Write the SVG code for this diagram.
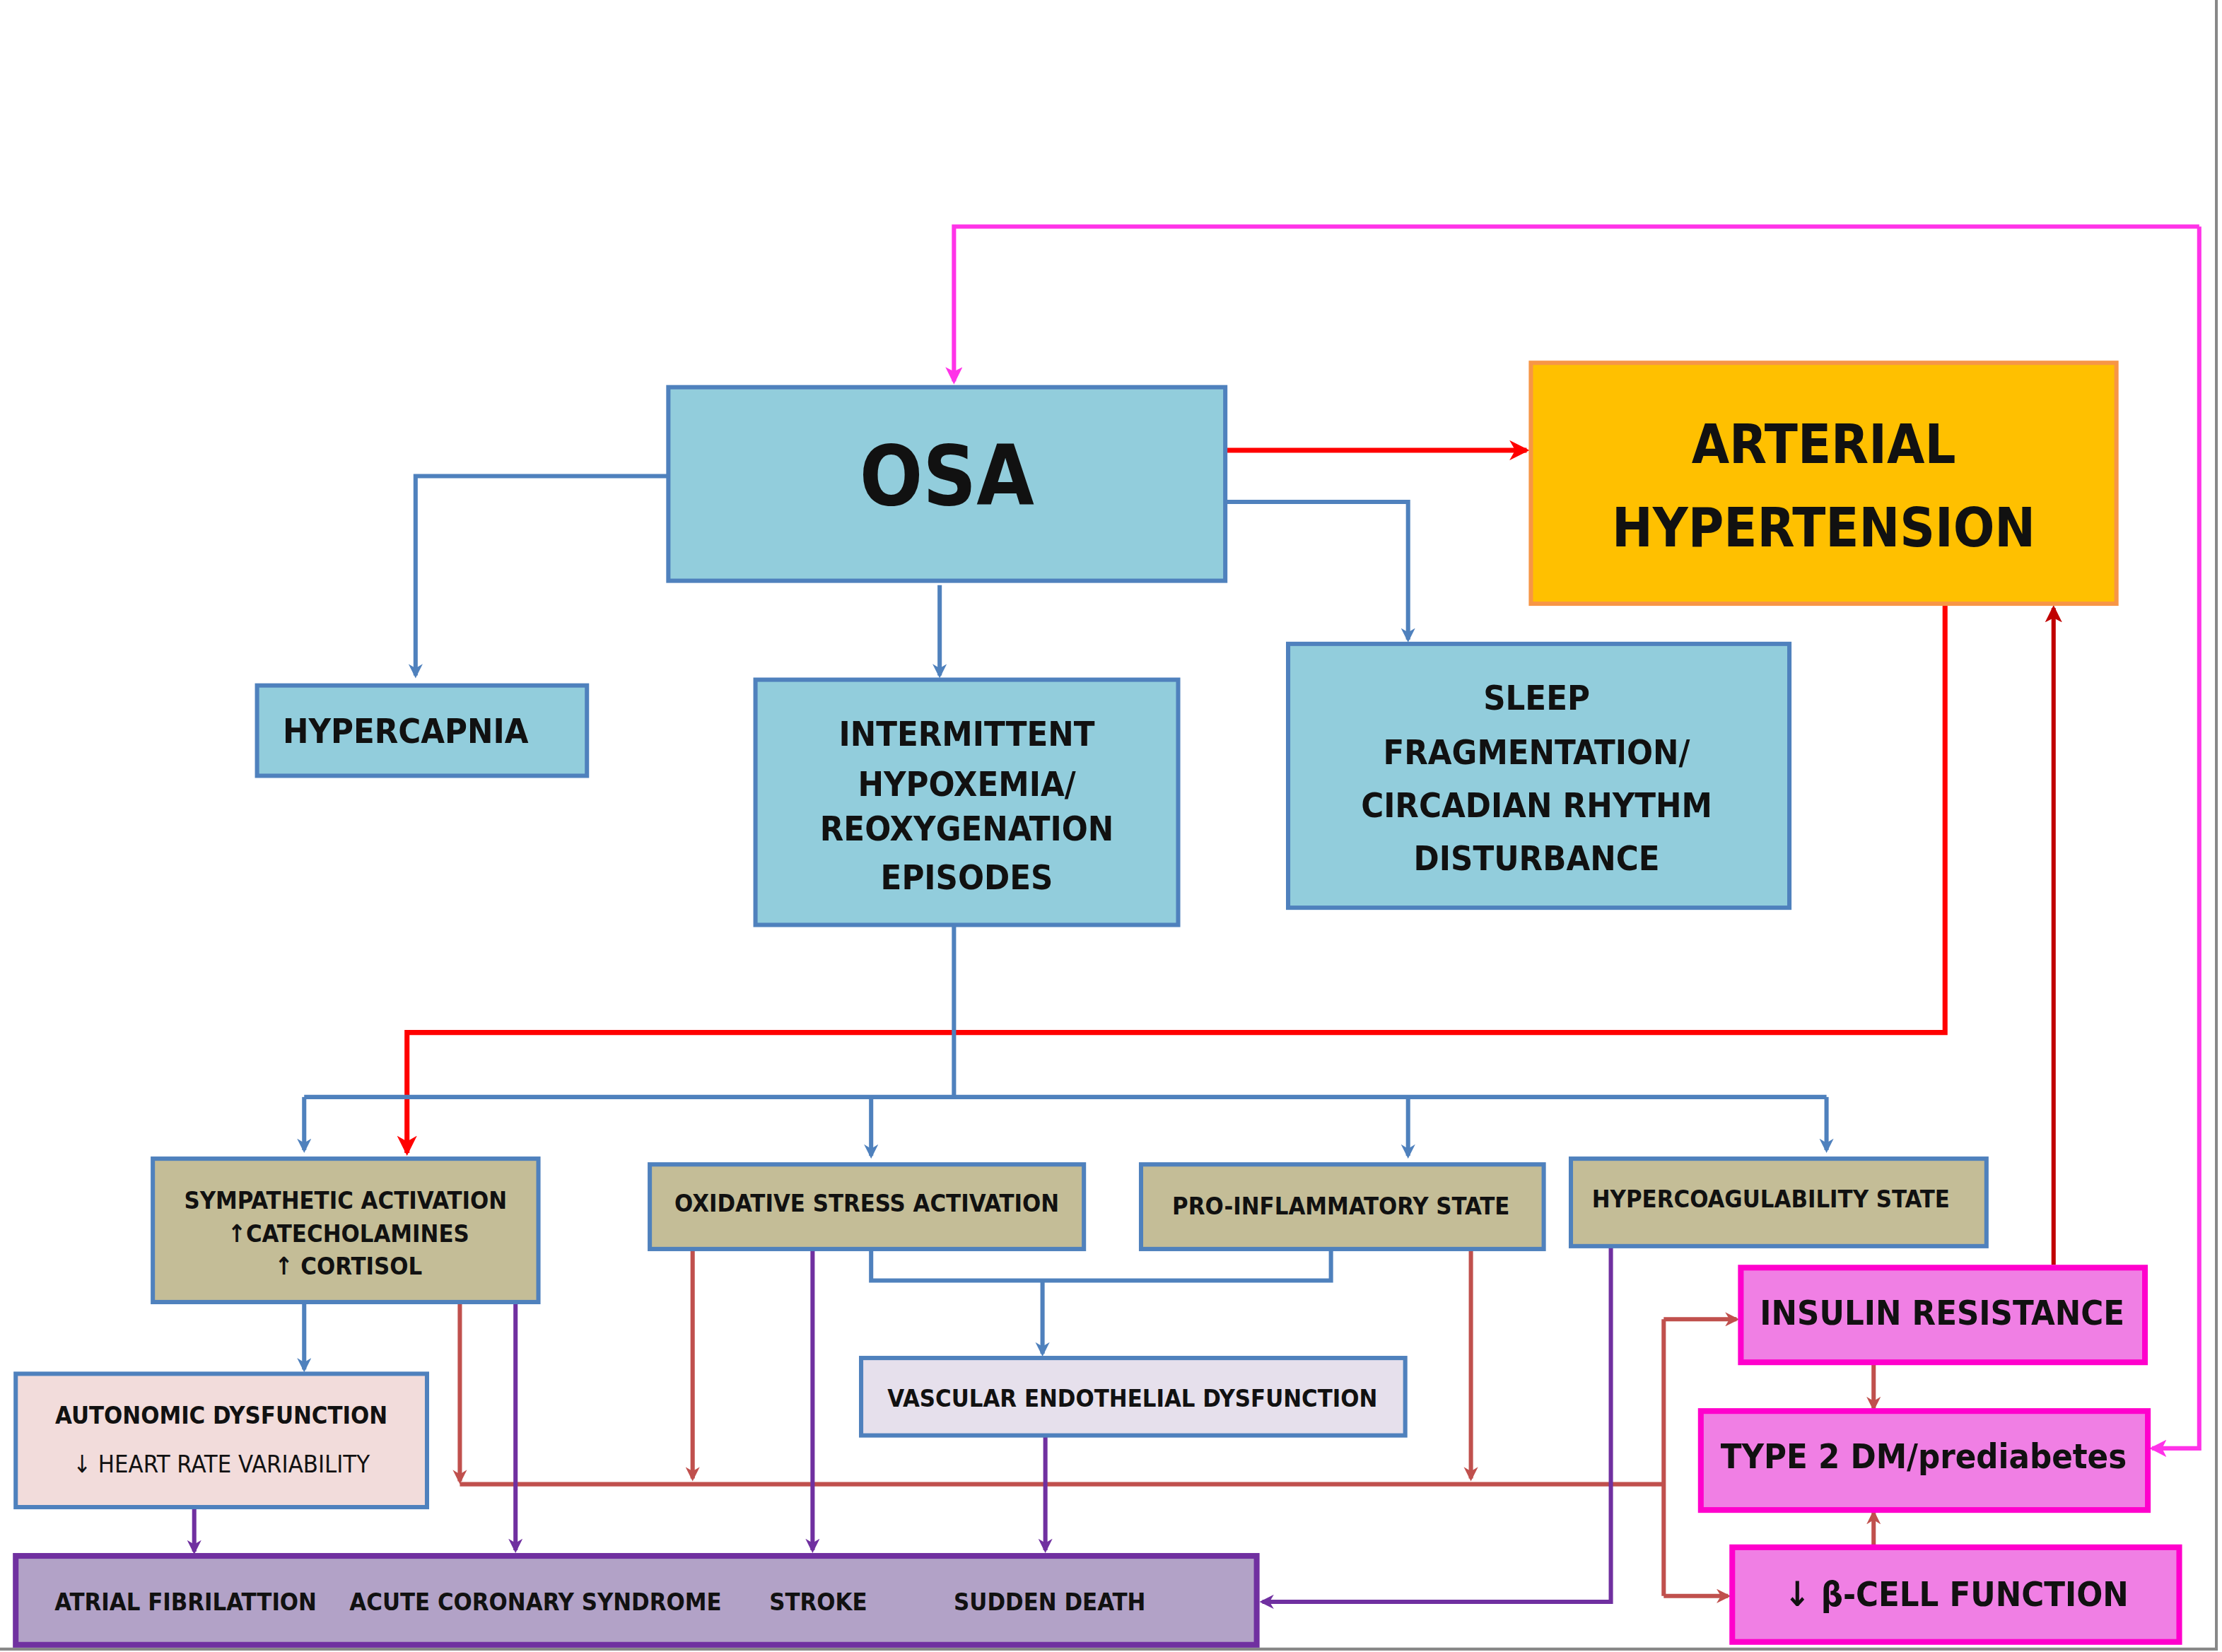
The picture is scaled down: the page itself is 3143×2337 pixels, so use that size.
<svg xmlns="http://www.w3.org/2000/svg" width="3143" height="2337" viewBox="0 0 3143 2337">
<style>
text{font-family:"DejaVu Sans Condensed","DejaVu Sans","Liberation Sans",sans-serif;font-weight:bold;fill:#111;text-anchor:middle}
.blue{fill:#92CDDC;stroke:#4F81BD;stroke-width:3}
.tan{fill:#C4BD97;stroke:#4F81BD;stroke-width:3}
.pink{fill:#F07FE4;stroke:#FF00CC;stroke-width:4}
.cb{fill:none;stroke:#4F81BD;stroke-width:3}
.cr{fill:none;stroke:#FF0000;stroke-width:3.5}
.cbr{fill:none;stroke:#C0504D;stroke-width:3}
.cp{fill:none;stroke:#7030A0;stroke-width:3}
.cm{fill:none;stroke:#FF33E8;stroke-width:3}
.m{font-size:24px}.s{font-size:17px}
</style>
<defs>
<marker id="ab" markerWidth="10" markerHeight="10" refX="8" refY="5" orient="auto" markerUnits="userSpaceOnUse" viewBox="0 0 10 10"><path d="M0,0L10,5L0,10L3,5z" fill="#4F81BD"/></marker>
<marker id="ar" markerWidth="14" markerHeight="14" refX="12" refY="7" orient="auto" markerUnits="userSpaceOnUse" viewBox="0 0 14 14"><path d="M0,0L14,7L0,14L4,7z" fill="#FF0000"/></marker>
<marker id="abr" markerWidth="10" markerHeight="10" refX="8" refY="5" orient="auto" markerUnits="userSpaceOnUse" viewBox="0 0 10 10"><path d="M0,0L10,5L0,10L3,5z" fill="#C0504D"/></marker>
<marker id="adr" markerWidth="12" markerHeight="12" refX="10" refY="6" orient="auto" markerUnits="userSpaceOnUse" viewBox="0 0 12 12"><path d="M0,0L12,6L0,12L3,6z" fill="#C00000"/></marker>
<marker id="ap" markerWidth="10" markerHeight="10" refX="8" refY="5" orient="auto" markerUnits="userSpaceOnUse" viewBox="0 0 10 10"><path d="M0,0L10,5L0,10L3,5z" fill="#7030A0"/></marker>
<marker id="am" markerWidth="12" markerHeight="12" refX="10" refY="6" orient="auto" markerUnits="userSpaceOnUse" viewBox="0 0 12 12"><path d="M0,0L12,6L0,12L3,6z" fill="#FF33E8"/></marker>
</defs>
<rect width="3143" height="2337" fill="#fff"/>
<g transform="scale(2.02,2.0286)">
<g id="frame"><path d="M1552,0V1150H0" fill="none" stroke="#888" stroke-width="2"/></g>
<g id="connectors">
<path class="cm" d="M1540,158H668V266" marker-end="url(#am)"/>
<path class="cm" d="M1540,158V1010H1507" marker-end="url(#am)"/>
<path class="cr" d="M858,314H1069" marker-end="url(#ar)"/>
<path class="cb" d="M468,332H291V471" marker-end="url(#ab)"/>
<path class="cb" d="M658,408V471" marker-end="url(#ab)"/>
<path class="cb" d="M858,350H986V446" marker-end="url(#ab)"/>
<path class="cr" d="M1362,421V720H285V804" marker-end="url(#ar)"/>
<path d="M1438,882V424" fill="none" stroke="#C00000" stroke-width="3" marker-end="url(#adr)"/>
<path class="cb" d="M668,645V765M213,765H1279"/>
<path class="cb" d="M213,765V802" marker-end="url(#ab)"/>
<path class="cb" d="M610,765V806" marker-end="url(#ab)"/>
<path class="cb" d="M986,765V806" marker-end="url(#ab)"/>
<path class="cb" d="M1279,765V802" marker-end="url(#ab)"/>
<path class="cb" d="M610,871V893H932V871"/>
<path class="cb" d="M730,893V944" marker-end="url(#ab)"/>
<path class="cb" d="M213,908V955" marker-end="url(#ab)"/>
<path class="cbr" d="M322,908V1033" marker-end="url(#abr)"/>
<path class="cbr" d="M322,1035H1165M1165,920V1113"/>
<path class="cbr" d="M485,871V1031" marker-end="url(#abr)"/>
<path class="cbr" d="M1030,871V1031" marker-end="url(#abr)"/>
<path class="cbr" d="M1165,920H1216" marker-end="url(#abr)"/>
<path class="cbr" d="M1165,1113H1210" marker-end="url(#abr)"/>
<path class="cbr" d="M1312,950V982" marker-end="url(#abr)"/>
<path class="cbr" d="M1312,1079V1055" marker-end="url(#abr)"/>
<path class="cp" d="M136,1051V1082" marker-end="url(#ap)"/>
<path class="cp" d="M361,908V1081" marker-end="url(#ap)"/>
<path class="cp" d="M569,871V1081" marker-end="url(#ap)"/>
<path class="cp" d="M732,1001V1081" marker-end="url(#ap)"/>
<path class="cp" d="M1128,869V1117H884" marker-end="url(#ap)"/>
</g>
<g id="osa"><rect class="blue" x="468" y="270" width="390" height="135"/><text x="663" y="352" style="font-size:58px">OSA</text></g>
<g id="ah"><rect x="1072" y="253" width="410" height="168" fill="#FFC000" stroke="#F79646" stroke-width="3"/><text x="1277" y="323" style="font-size:38px">ARTERIAL</text><text x="1277" y="381" style="font-size:38px">HYPERTENSION</text></g>
<g id="hypercapnia"><rect class="blue" x="180" y="478" width="231" height="63"/><text class="m" x="284" y="518">HYPERCAPNIA</text></g>
<g id="intermittent"><rect class="blue" x="529" y="474" width="296" height="171"/><text class="m" x="677" y="520">INTERMITTENT</text><text class="m" x="677" y="555">HYPOXEMIA/</text><text class="m" x="677" y="586">REOXYGENATION</text><text class="m" x="677" y="620">EPISODES</text></g>
<g id="sleep"><rect class="blue" x="902" y="449" width="351" height="184"/><text class="m" x="1076" y="495">SLEEP</text><text class="m" x="1076" y="533">FRAGMENTATION/</text><text class="m" x="1076" y="570">CIRCADIAN RHYTHM</text><text class="m" x="1076" y="607">DISTURBANCE</text></g>
<g id="sympathetic"><rect class="tan" x="107" y="808" width="270" height="100"/><text class="s" x="242" y="843">SYMPATHETIC ACTIVATION</text><text class="s" x="244" y="866">↑CATECHOLAMINES</text><text class="s" x="244" y="889">↑ CORTISOL</text></g>
<g id="oxidative"><rect class="tan" x="455" y="812" width="304" height="59"/><text class="s" x="607" y="845">OXIDATIVE STRESS ACTIVATION</text></g>
<g id="proinflam"><rect class="tan" x="799" y="812" width="282" height="59"/><text class="s" x="939" y="847">PRO-INFLAMMATORY STATE</text></g>
<g id="hypercoag"><rect class="tan" x="1100" y="808" width="291" height="61"/><text class="s" x="1240" y="842">HYPERCOAGULABILITY STATE</text></g>
<g id="vascular"><rect x="603" y="947" width="381" height="54" fill="#E6E0EC" stroke="#4F81BD" stroke-width="3"/><text class="s" x="793" y="981">VASCULAR ENDOTHELIAL DYSFUNCTION</text></g>
<g id="autonomic"><rect x="11" y="958" width="288" height="93" fill="#F2DCDB" stroke="#4F81BD" stroke-width="3"/><text class="s" x="155" y="993">AUTONOMIC DYSFUNCTION</text><text class="s" x="155" y="1027" style="font-weight:normal">↓ HEART RATE VARIABILITY</text></g>
<g id="outcomes"><rect x="11" y="1085" width="869" height="62" fill="#B2A2C7" stroke="#7030A0" stroke-width="4"/><text class="s" x="130" y="1123">ATRIAL FIBRILATTION</text><text class="s" x="375" y="1123">ACUTE CORONARY SYNDROME</text><text class="s" x="573" y="1123">STROKE</text><text class="s" x="735" y="1123">SUDDEN DEATH</text></g>
<g id="insulin"><rect class="pink" x="1219" y="884" width="283" height="66"/><text class="m" x="1360" y="924">INSULIN RESISTANCE</text></g>
<g id="t2dm"><rect class="pink" x="1191" y="984" width="313" height="69"/><text class="m" x="1347" y="1024">TYPE 2 DM/prediabetes</text></g>
<g id="beta"><rect class="pink" x="1213" y="1079" width="313" height="66"/><text class="m" x="1370" y="1120">↓ β-CELL FUNCTION</text></g>
</g>
</svg>
